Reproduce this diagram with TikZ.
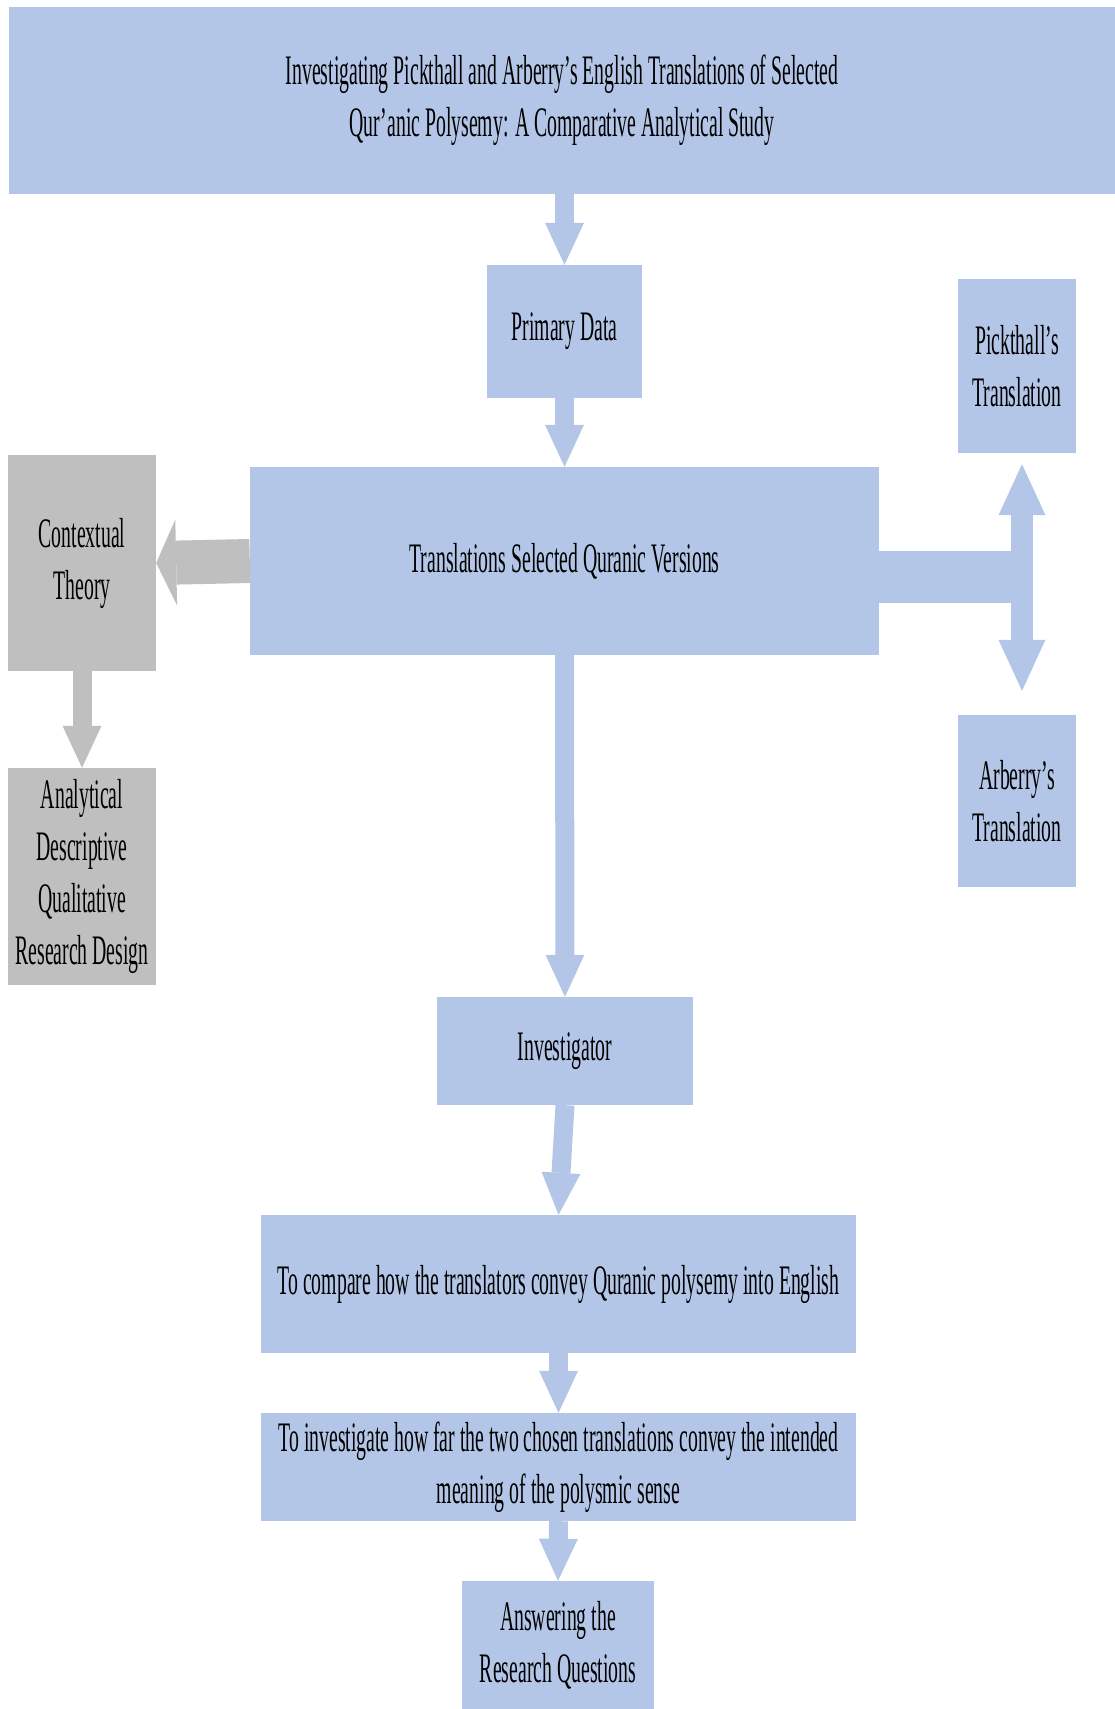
\documentclass[tikz,border=0pt]{standalone}
\usepackage{fontspec}
\setmainfont{Liberation Serif}[FakeStretch=0.47]
\usetikzlibrary{arrows.meta}
\definecolor{boxblue}{HTML}{B4C6E7}
\definecolor{boxgray}{HTML}{BFBFBF}

\begin{document}
\begin{tikzpicture}[x=1pt,y=-1pt,
  bluebox/.style={fill=boxblue,inner sep=0pt,align=center,font=\fontsize{42}{52}\selectfont},
  graybox/.style={fill=boxgray,inner sep=0pt,align=center,font=\fontsize{42}{52}\selectfont},
  blk/.style={draw=boxblue,line width=19pt,-{Triangle[length=42pt,width=39pt,line width=0pt]}},
  gblk/.style={draw=boxgray,line width=#1,-{Triangle[length=42pt,width=39pt,line width=0pt]}},
  dblk/.style={draw=boxblue,line width=22pt,-{Triangle[length=51pt,width=47pt,line width=0pt]}}]

\useasboundingbox (0,0) rectangle (1115,1709);

% boxes
\node[bluebox,minimum width=1106pt,minimum height=187pt] (title) at (562,100.5)
  {Investigating Pickthall and Arberry’s English Translations of Selected\\Qur’anic Polysemy: A Comparative Analytical Study};
\node[bluebox,minimum width=155pt,minimum height=133pt] (pd) at (564.5,331.5) {Primary Data};
\node[bluebox,minimum width=118pt,minimum height=174pt] (pick) at (1017,366) {Pickthall’s\\Translation};
\node[graybox,minimum width=148pt,minimum height=216pt] (ct) at (82,563) {Contextual\\Theory};
\node[bluebox,minimum width=629pt,minimum height=188pt] (tr) at (564.5,561) {Translations Selected Quranic Versions};
\node[bluebox,minimum width=118pt,minimum height=172pt] (arb) at (1017,801) {Arberry’s\\Translation};
\node[graybox,minimum width=148pt,minimum height=217pt] (ad) at (82,876.5) {Analytical\\Descriptive\\Qualitative\\Research Design};
\node[bluebox,minimum width=256pt,minimum height=108pt] (inv) at (565,1051) {Investigator};
\node[bluebox,minimum width=595pt,minimum height=138pt] (cmp) at (558.5,1284) {To compare how the translators convey Quranic polysemy into English};
\node[bluebox,minimum width=595pt,minimum height=108pt] (aim) at (558.5,1467) {To investigate how far the two chosen translations convey the intended\\meaning of the polysmic sense};
\node[bluebox,minimum width=192pt,minimum height=128pt] (ans) at (558,1645) {Answering the\\Research Questions};

% block arrows
\draw[blk] (pd.north |- title.south) -- (pd.north);
\draw[blk] (pd.south) -- (tr.north);
\draw[blk] (tr.south) -- (inv.north);
\draw[blk] (inv.south) -- (cmp.north);
\draw[blk] (cmp.south) -- (aim.north);
\draw[blk] (aim.south) -- (ans.north);

\draw[gblk=19pt] (ct.south) -- (ad.north);
\draw[draw=boxgray,line width=44pt,-{Triangle[length=20pt,width=86pt,line width=0pt]}] (tr.west) -- (ct.east);

\coordinate (jn) at (1022,577);
\draw[draw=boxblue,line width=52pt] (tr.east |- jn) -- ([xshift=11pt]jn);
\draw[dblk,shorten >=11pt] (jn) -- (jn |- pick.south);
\draw[dblk,shorten >=24pt] (jn) -- (jn |- arb.north);
\end{tikzpicture}
\end{document}
